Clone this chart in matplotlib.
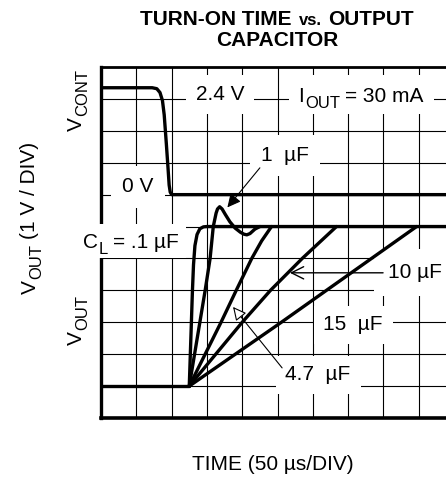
import numpy as np
import matplotlib
matplotlib.use('Agg')
import matplotlib.pyplot as plt
from matplotlib.text import Text
from matplotlib.patches import Rectangle
from matplotlib.transforms import ScaledTranslation
from matplotlib.offsetbox import TextArea, HPacker, AnnotationBbox

plt.rcParams['font.family'] = ['Liberation Sans', 'DejaVu Sans']

# data, in grid divisions (x: 50 us/div, y: 1 V/div)
vcont_x = [0, 1.45, 1.58, 1.67, 1.74, 1.79, 1.85, 1.90, 1.93, 1.96, 2.0, 10]
vcont_y = [10.35, 10.35, 10.32, 10.2, 9.95, 9.5, 8.6, 7.8, 7.3, 7.08, 7.0, 7.0]

base_x = [0, 2.5]
base_y = [1.0, 1.0]

c01_x = [2.5, 2.53, 2.56, 2.59, 2.62, 2.66, 2.72, 2.80, 2.90, 3.0, 10]
c01_y = [1.0, 2.0, 3.0, 4.0, 4.8, 5.4, 5.75, 5.93, 5.99, 6.0, 6.0]

c1_x = [2.5, 2.65, 2.8, 2.95, 3.09, 3.18, 3.26, 3.30, 3.36, 3.43, 3.52, 3.65,
        3.8, 3.95, 4.05, 4.13, 4.22, 4.36, 4.5]
c1_y = [1.0, 2.0, 3.0, 4.0, 5.0, 6.0, 6.42, 6.55, 6.62, 6.55, 6.38, 6.15,
        5.95, 5.82, 5.76, 5.74, 5.78, 5.92, 6.0]

c47_x = [2.5, 2.95, 3.4, 3.83, 4.27, 4.55, 4.83]
c47_y = [1.0, 2.0, 3.0, 4.0, 5.0, 5.55, 6.0]

c10_x = [2.5, 3.25, 4.0, 4.8, 5.7, 6.67]
c10_y = [1.0, 2.0, 3.0, 4.0, 5.0, 6.0]

c15_x = [2.5, 5.07, 8.94]
c15_y = [1.0, 2.97, 6.0]

fig = plt.figure(figsize=(4.46, 4.82), dpi=100)
ax = fig.add_axes([0.2265, 0.1328, 0.7915, 0.7282])
ax.set_xlim(0, 10)
ax.set_ylim(0, 11)
ax.set_xticks(range(11))
ax.set_yticks(range(12))
ax.tick_params(length=0, labelbottom=False, labelleft=False)
ax.set_axisbelow(True)
ax.grid(True, color='black', lw=0.8)
ax.spines['left'].set_linewidth(2.4)
ax.spines['top'].set_linewidth(2.0)
ax.spines['bottom'].set_linewidth(2.6)

kw = dict(color='black', lw=2.4, solid_capstyle='round', solid_joinstyle='round', zorder=4)
ax.plot(vcont_x, vcont_y, **kw)
ax.plot(base_x, base_y, **kw)
ax.plot(c01_x, c01_y, **kw)
ax.plot(c1_x, c1_y, **kw)
ax.plot(c47_x, c47_y, **kw)
ax.plot(c10_x, c10_y, **kw)
ax.plot(c15_x, c15_y, **kw)

fs = 15
sfs = 12
wb = dict(facecolor='white', edgecolor='none')
renderer = fig.canvas.get_renderer()


def text_w(s, size):
    t = Text(0, 0, s, fontsize=size)
    t.set_figure(fig)
    return t.get_window_extent(renderer).width * 72 / fig.dpi


def sub_text(x, y, pieces, rot=0, z=3, pad=None):
    # pieces: (string, size, baseline shift pt, gap before pt)
    total = sum(text_w(s, sz) + g for s, sz, d, g in pieces)
    if pad is not None:
        w = total + 2 * pad
        h = 0.95 * fs + 2 * pad
        tr = fig.dpi_scale_trans + ScaledTranslation(x, y, ax.transData)
        ax.add_patch(Rectangle((-w / 144, -h / 144), w / 72, h / 72, transform=tr,
                               clip_on=False, zorder=z - 0.5, **wb))
    pos = -total / 2
    base = -0.36 * fs
    for s, sz, d, g in pieces:
        pos += g
        if rot == 0:
            off = (pos, base + d)
        else:
            off = (-(base + d), pos)
        ax.annotate(s, (x, y), xytext=off, textcoords='offset points',
                    fontsize=sz, ha='left', va='baseline', rotation=rot,
                    rotation_mode='anchor', annotation_clip=False, zorder=z)
        pos += text_w(s, sz)


ax.text(3.37, 10.13, '2.4 V', fontsize=fs, ha='center', va='center',
        bbox=dict(pad=7, **wb))
sub_text(7.37, 10.13, [('I', fs, 0, 0), ('OUT', sfs, -4, 0.5), ('= 30 mA', fs, 0, 4)], pad=7)
ax.text(1.05, 7.24, '0 V', fontsize=fs, ha='center', va='center',
        bbox=dict(pad=8, **wb))
ax.text(5.21, 8.24, '1  µF', fontsize=fs, ha='center', va='center',
        bbox=dict(pad=8, **wb))
sub_text(0.85, 5.55, [('C', fs, 0, 0), ('L', sfs, -4, 0.5), ('= .1 µF', fs, 0, 4)], z=6, pad=5)
ax.text(8.9, 4.55, '10 µF', fontsize=fs, ha='center', va='center',
        bbox=dict(pad=10, **wb))
ax.text(7.14, 2.92, '15  µF', fontsize=fs, ha='center', va='center',
        bbox=dict(pad=7, **wb))
ax.text(6.15, 1.35, '4.7  µF', fontsize=fs, ha='center', va='center',
        bbox=dict(pad=7, **wb))

ax.annotate('', xy=(3.58, 6.6), xytext=(4.5, 7.84),
            arrowprops=dict(arrowstyle='-|>', color='black', lw=0.8,
                            mutation_scale=20, shrinkA=0, shrinkB=0), zorder=5)
ax.annotate('', xy=(5.35, 4.55), xytext=(7.99, 4.55),
            arrowprops=dict(arrowstyle='->', color='black', lw=1.0,
                            mutation_scale=22, shrinkA=0, shrinkB=0), zorder=5)
ax.annotate('', xy=(3.74, 3.48), xytext=(5.13, 1.57),
            arrowprops=dict(arrowstyle='-|>', fc='white', ec='black', lw=0.8,
                            mutation_scale=20, shrinkA=0, shrinkB=0), zorder=5)

sub_text(-0.76, 9.97, [('V', fs, 0, 0), ('CONT', sfs, -4, 0.5)], rot=90)
sub_text(-0.76, 3.07, [('V', fs, 0, 0), ('OUT', sfs, -4, 0.5)], rot=90)
sub_text(-2.07, 6.27, [('V', fs, 0, 0), ('OUT', sfs, -4, 0.5), ('(1 V / DIV)', fs, 0, 4)], rot=90)
ax.text(4.87, -1.47, 'TIME (50 µs/DIV)', fontsize=fs, ha='center', va='center')

# title with smaller "vs."
tb = dict(fontsize=15, fontweight='bold')
row = HPacker(children=[TextArea('TURN-ON TIME', textprops=tb),
                        TextArea('vs.', textprops=dict(fontsize=12, fontweight='bold')),
                        TextArea('OUTPUT', textprops=tb)],
              align='baseline', pad=0, sep=5)
ax.add_artist(AnnotationBbox(row, (4.99, 12.5), xycoords='data', frameon=False,
                             box_alignment=(0.5, 0.5), annotation_clip=False))
ax.text(4.99, 11.82, 'CAPACITOR', ha='center', va='center', clip_on=False, **tb)

fig.savefig('out.png', dpi=100)
